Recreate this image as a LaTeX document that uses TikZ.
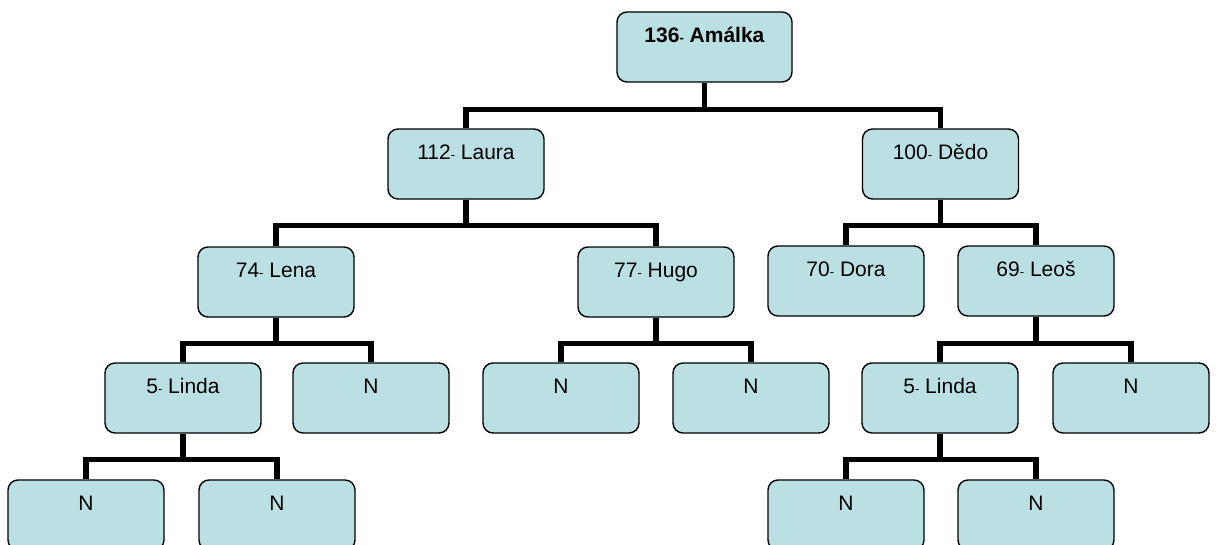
\documentclass[tikz,border=0pt]{standalone}
\usepackage{fontspec}
\setmainfont{Liberation Sans}
\newcommand{\dsh}{{\fontsize{13}{14}\selectfont -}}
\begin{document}
\begin{tikzpicture}[x=1pt,y=-1pt,
  box/.style={draw=black, line width=1.4pt, fill={rgb,255:red,187;green,224;blue,227},
    rounded corners=10pt, minimum width=156pt, minimum height=70pt,
    text height=6pt, text depth=15pt, inner sep=0pt,
    font=\fontsize{21}{24}\selectfont},
  conn/.style={line width=5.5pt, line join=miter}]
\useasboundingbox (0,0) rectangle (1216,544);
% level 0
\node[box, minimum width=175pt] (root) at (704.5,47) {\textbf{136\dsh\ Amálka}};
% level 1
\node[box] (laura) at (466,164) {112\dsh\ Laura};
\node[box] (dedo) at (940.5,164) {100\dsh\ Dědo};
% level 2
\node[box] (lena) at (276,282) {74\dsh\ Lena};
\node[box] (hugo) at (656,282) {77\dsh\ Hugo};
\node[box] (dora) at (846,281) {70\dsh\ Dora};
\node[box] (leos) at (1036,281) {69\dsh\ Leoš};
% level 3
\node[box] (lindaA) at (183,398) {5\dsh\ Linda};
\node[box] (nA) at (371,398) {N};
\node[box] (nB) at (561,398) {N};
\node[box] (nC) at (751,398) {N};
\node[box] (lindaB) at (940,398) {5\dsh\ Linda};
\node[box] (nD) at (1131,398) {N};
% level 4
\node[box] (nE) at (86,515) {N};
\node[box] (nF) at (277,515) {N};
\node[box] (nG) at (846,515) {N};
\node[box] (nH) at (1036,515) {N};
% connectors
\draw[conn] (root.south) -- ++(0,27) -| (laura.north);
\draw[conn] (root.south) -- ++(0,27) -| (dedo.north);
\draw[conn] (laura.south) -- ++(0,26) -| (lena.north);
\draw[conn] (laura.south) -- ++(0,26) -| (hugo.north);
\draw[conn] (dedo.south) -- ++(0,26) -| (dora.north);
\draw[conn] (dedo.south) -- ++(0,26) -| (leos.north);
\draw[conn] (lena.south) -- ++(0,26) -| (lindaA.north);
\draw[conn] (lena.south) -- ++(0,26) -| (nA.north);
\draw[conn] (hugo.south) -- ++(0,26) -| (nB.north);
\draw[conn] (hugo.south) -- ++(0,26) -| (nC.north);
\draw[conn] (leos.south) -- ++(0,27) -| (lindaB.north);
\draw[conn] (leos.south) -- ++(0,27) -| (nD.north);
\draw[conn] (lindaA.south) -- ++(0,26) -| (nE.north);
\draw[conn] (lindaA.south) -- ++(0,26) -| (nF.north);
\draw[conn] (lindaB.south) -- ++(0,26) -| (nG.north);
\draw[conn] (lindaB.south) -- ++(0,26) -| (nH.north);
\end{tikzpicture}
\end{document}
